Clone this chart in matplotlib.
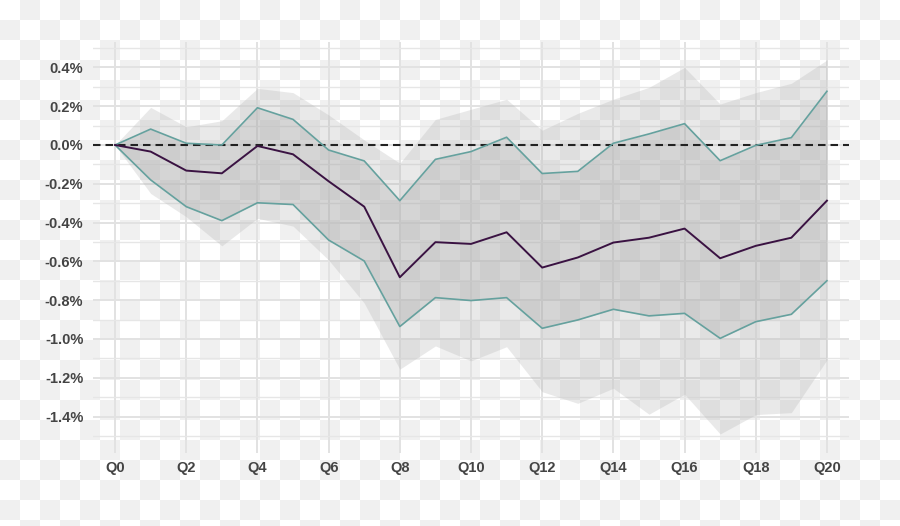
import numpy as np
import matplotlib.pyplot as plt
from matplotlib.ticker import MultipleLocator, FuncFormatter

# quarters after the shock
quarters = list(range(21))
quarter_labels = ["Q%d" % q for q in range(0, 21, 2)]

# point estimate (in percent)
estimate = [0.0, -0.034, -0.132, -0.146, -0.005, -0.048, -0.187, -0.318, -0.682, -0.501,
            -0.510, -0.450, -0.632, -0.580, -0.503, -0.478, -0.431, -0.584, -0.520, -0.478,
            -0.287]

# inner band (teal lines)
inner_hi = [0.0, 0.082, 0.009, 0.0, 0.192, 0.132, -0.026, -0.082, -0.287, -0.074,
            -0.034, 0.040, -0.147, -0.136, 0.009, 0.057, 0.110, -0.081, -0.002, 0.038,
            0.277]
inner_lo = [0.0, -0.180, -0.318, -0.390, -0.298, -0.307, -0.490, -0.598, -0.936, -0.787,
            -0.802, -0.787, -0.945, -0.902, -0.847, -0.881, -0.868, -0.997, -0.911, -0.873,
            -0.700]

# outer band
outer_hi = [0.0, 0.194, 0.094, 0.125, 0.292, 0.270, 0.155, 0.026, -0.094, 0.132,
            0.184, 0.236, 0.076, 0.163, 0.236, 0.297, 0.400, 0.211, 0.270, 0.318,
            0.438]
outer_lo = [0.0, -0.250, -0.370, -0.520, -0.378, -0.418, -0.593, -0.815, -1.156, -1.036,
            -1.113, -1.040, -1.272, -1.332, -1.254, -1.388, -1.285, -1.490, -1.390, -1.380,
            -1.108]

W, H = 900, 526
fig = plt.figure(figsize=(W / 100, H / 100), dpi=100)

# transparent-background checkerboard
iy, ix = np.indices((H, W))
board = np.where(((ix // 20) + (iy // 20)) % 2 == 0, 1.0, 240 / 255)
rgb = np.dstack([board, board, board])
fig.figimage(rgb, xo=0, yo=0, origin="upper", zorder=-10)

ax = fig.add_axes([93 / W, 1 - 453 / H, (849 - 93) / W, (453 - 42) / H])
ax.patch.set_alpha(0)
for s in ax.spines.values():
    s.set_visible(False)

ax.fill_between(quarters, outer_lo, outer_hi, color="#b0b0b0", alpha=0.27, lw=0, zorder=1)
ax.fill_between(quarters, inner_lo, inner_hi, color="#a8a8a8", alpha=0.30, lw=0, zorder=2)
ax.plot(quarters, inner_hi, color="#65a19e", lw=1.2, zorder=4)
ax.plot(quarters, inner_lo, color="#65a19e", lw=1.2, zorder=4)
ax.plot(quarters, estimate, color="#3a1242", lw=1.4, zorder=5)
ax.axhline(0, color="#222222", lw=1.5, dashes=(3.6, 2.4), zorder=3)

ax.set_xlim(-0.62, 20.62)
ax.set_ylim(-1.588, 0.531)
ax.set_xticks(range(0, 21, 2))
ax.set_xticklabels(quarter_labels)
ax.yaxis.set_major_locator(MultipleLocator(0.2))
ax.yaxis.set_minor_locator(MultipleLocator(0.1))
ax.yaxis.set_major_formatter(FuncFormatter(lambda v, p: "%.1f%%" % v))

ax.grid(True, which="major", color="#e2e2e2", lw=1.4, zorder=0)
ax.grid(True, which="minor", axis="y", color="#e6e6e6", lw=1.0, zorder=0)
ax.set_axisbelow(True)
ax.tick_params(which="both", length=0)
ax.tick_params(axis="x", pad=6)
ax.tick_params(axis="y", pad=7)
for lab in ax.get_xticklabels() + ax.get_yticklabels():
    lab.set_fontfamily("Liberation Sans")
    lab.set_fontweight("bold")
    lab.set_fontsize(10.5)
    lab.set_color("#444444")

fig.savefig("out.png", dpi=100)
